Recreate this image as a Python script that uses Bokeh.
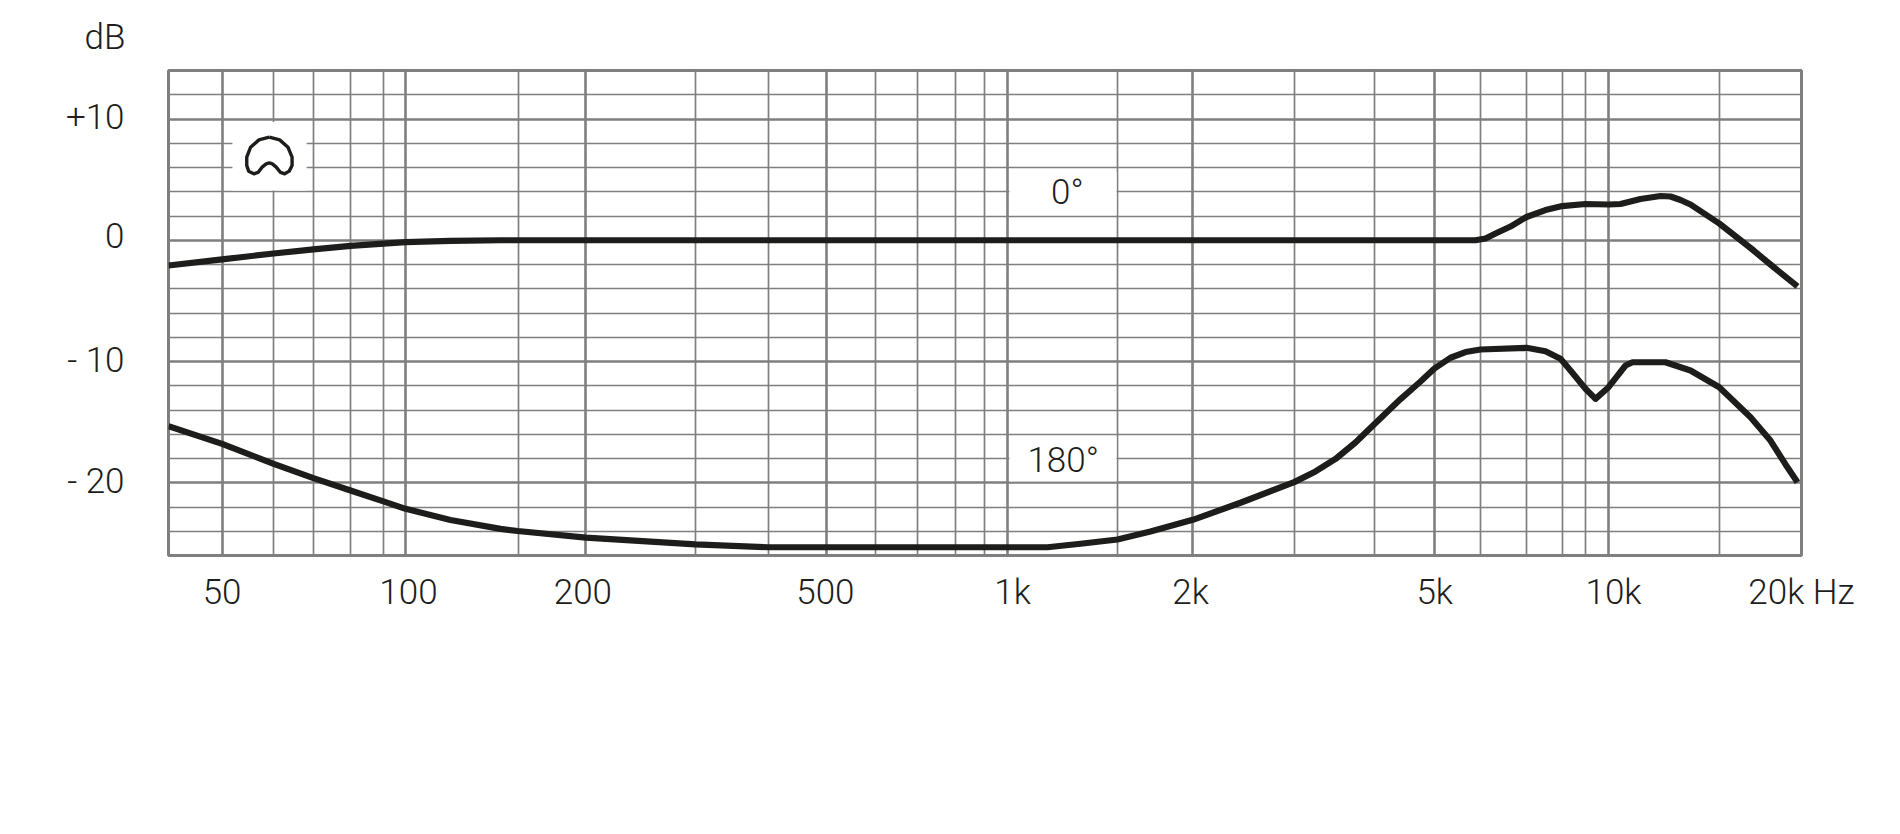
from bokeh.plotting import figure
from bokeh.models import Range1d, FixedTicker, Grid, Title
from bokeh.core.properties import value
from bokeh.embed import file_html
from bokeh.resources import INLINE

# values (Hz on a fitted log scale, dB)
F0 = [40.8, 50.0, 60.8, 70.7, 81.4, 100.3, 118.9, 143.8, 5807, 6032, 6266, 6631, 7046, 7572, 8070, 8813, 9620,
      10066, 10859, 11716, 12168, 12640, 13127, 14640, 16485, 17776, 19698]
DB0 = [-2.08, -1.58, -1.09, -0.75, -0.47, -0.16, -0.05, 0, 0, 0.14, 0.56, 1.13, 1.92, 2.49, 2.82, 2.99, 2.95,
       2.99, 3.40, 3.65, 3.61, 3.32, 2.95, 1.38, -0.64, -2.0, -3.81]
F180 = [40.8, 50.0, 60.8, 70.7, 81.4, 92.2, 100.3, 118.9, 143.8, 153.4, 198.7, 301, 397, 1145, 1298, 1493, 1692, 1987,
        2381, 2919, 3165, 3414, 3683, 3959, 4370, 4714, 4969, 5282, 5591, 5920, 7046, 7572, 8017, 8326, 8813, 9155, 9620,
        10258, 10535, 11937, 13127, 14640, 16485, 17776, 18827, 19698]
DB180 = [-15.34, -16.79, -18.44, -19.62, -20.64, -21.54, -22.15, -23.07, -23.80, -23.98, -24.52, -25.09, -25.32,
         -25.32, -25.03, -24.68, -24.02, -23.06, -21.65, -19.95, -19.07, -18.04, -16.68, -15.15, -13.1, -11.65, -10.58, -9.69, -9.22,
         -9.01, -8.87, -9.15, -9.78, -10.74, -12.25, -13.08, -12.12, -10.33, -10.06, -10.06, -10.74, -12.12,
         -14.59, -16.52, -18.49, -19.95]

X_MAJOR = [50.0, 100.3, 198.7, 496, 985, 1987, 4969, 9607]
X_MINOR = [60.8, 70.7, 81.4, 92.2, 154, 301, 397, 597, 698, 809, 902, 1493, 2919, 3959, 5920, 7046, 8063, 8813, 14640]
Y_MAJOR = [10, 0, -10, -20]
Y_MINOR = [12, 8, 6, 4, 2, -2, -4, -6, -8, -12, -14, -16, -18, -22, -24]

X_TICKS = [50.0, 101.4, 196.5, 493, 1003, 1970, 4974, 9802, 20000]
X_LABELS = ["50", "100", "200", "500", "1k", "2k", "5k", "10k", "20k Hz"]
Y_TICKS = [10.1, 0.3, -9.9, -19.9]
Y_LABELS = ["+10", "0", "- 10", "- 20"]

# white label patches: left, right (Hz), bottom, top (dB)
PATCH_L = [52.0, 991, 991]
PATCH_R = [68.9, 1488, 1488]
PATCH_B = [4.1, 2.1, -19.9]
PATCH_T = [9.75, 5.6, -16.2]

# polar-pattern icon outline
ICON_F = [59.8, 57.5, 55.7, 54.9, 54.9, 55.3, 56.4, 57.3, 58.2, 59.1, 59.8, 60.5, 61.4, 62.4, 63.4, 64.5, 65.2, 65.2, 64.2, 62.2, 59.8]
ICON_DB = [8.50, 8.28, 7.67, 6.85, 6.16, 5.70, 5.48, 5.59, 6.03, 6.30, 6.38, 6.30, 6.03, 5.59, 5.48, 5.70, 6.16, 6.85, 7.67, 8.28, 8.50]

FONT = "Roboto Light"
TEXT = "#1d1d1b"
GRID = "#7f7f7f"

title = Title(text="dB", align="left", offset=-84, standoff=26, text_font=FONT, text_font_size="35px",
              text_font_style="normal", text_color=TEXT)

p = figure(width=1880, height=800, x_axis_type="log", title=title,
           x_range=Range1d(40.8, 20000), y_range=Range1d(-26, 14),
           output_backend="svg", toolbar_location=None,
           min_border_left=168, min_border_top=70, min_border_right=79, min_border_bottom=245,
           frame_width=1633, frame_height=485)
p.grid.visible = False
p.outline_line_color = GRID
p.outline_line_width = 3
p.background_fill_color = "white"

for dim, ticks, w in [(0, X_MINOR, 1.7), (1, Y_MINOR, 1.7), (1, Y_MAJOR, 2.6), (0, X_MAJOR, 2.6)]:
    p.add_layout(Grid(dimension=dim, ticker=FixedTicker(ticks=ticks), grid_line_color=GRID, grid_line_width=w))

p.quad(left=PATCH_L, right=PATCH_R, bottom=PATCH_B, top=PATCH_T, fill_color="white", line_color=None)

p.xaxis.ticker = FixedTicker(ticks=X_TICKS)
p.xaxis.major_label_overrides = dict(zip(X_TICKS, X_LABELS))
p.yaxis.ticker = FixedTicker(ticks=Y_TICKS)
p.yaxis.major_label_overrides = dict(zip(Y_TICKS, Y_LABELS))
for ax in (p.xaxis[0], p.yaxis[0]):
    ax.axis_line_color = None
    ax.major_tick_line_color = None
    ax.minor_tick_line_color = None
    ax.major_label_text_font = FONT
    ax.major_label_text_font_size = "35px"
    ax.major_label_text_color = TEXT
p.xaxis.major_label_standoff = 10
p.yaxis.major_label_standoff = 38

p.line(F0, DB0, line_color=TEXT, line_width=6.2, line_join="round")
p.line(F180, DB180, line_color=TEXT, line_width=6.2, line_join="round")
p.line(ICON_F, ICON_DB, line_color=TEXT, line_width=3.4, line_join="round")

p.text(x=[1235, 1215], y=[3.9, -18.2], text=["0°", "180°"], text_font=value(FONT),
       text_font_size="35px", text_color=TEXT, text_align="center", text_baseline="middle")

open("out.html", "w").write(file_html(p, INLINE))
